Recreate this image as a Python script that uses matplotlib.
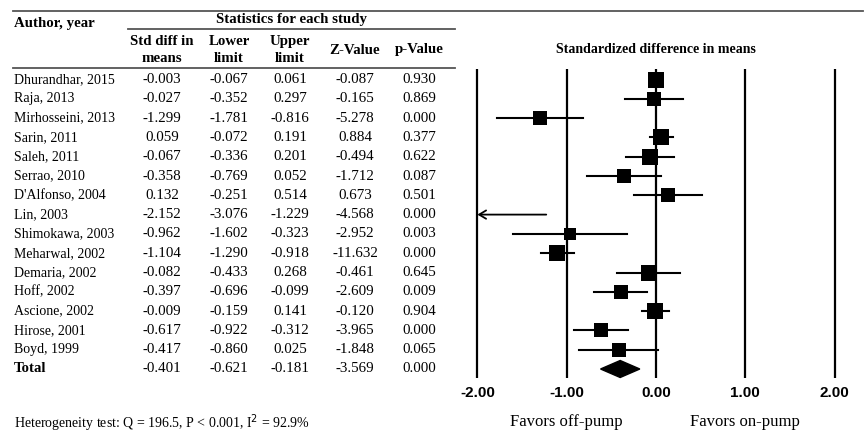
import numpy as np
import matplotlib
matplotlib.use("Agg")
import matplotlib.pyplot as plt
from matplotlib.patches import Polygon

# ---- data ----
studies = ["Dhurandhar, 2015", "Raja, 2013", "Mirhosseini, 2013", "Sarin, 2011",
           "Saleh, 2011", "Serrao, 2010", "D'Alfonso, 2004", "Lin, 2003",
           "Shimokawa, 2003", "Meharwal, 2002", "Demaria, 2002", "Hoff, 2002",
           "Ascione, 2002", "Hirose, 2001", "Boyd, 1999"]
smd = [-0.003, -0.027, -1.299, 0.059, -0.067, -0.358, 0.132, -2.152,
       -0.962, -1.104, -0.082, -0.397, -0.009, -0.617, -0.417]
lower = [-0.067, -0.352, -1.781, -0.072, -0.336, -0.769, -0.251, -3.076,
         -1.602, -1.290, -0.433, -0.696, -0.159, -0.922, -0.860]
upper = [0.061, 0.297, -0.816, 0.191, 0.201, 0.052, 0.514, -1.229,
         -0.323, -0.918, 0.268, -0.099, 0.141, -0.312, 0.025]
zval = [-0.087, -0.165, -5.278, 0.884, -0.494, -1.712, 0.673, -4.568,
        -2.952, -11.632, -0.461, -2.609, -0.120, -3.965, -1.848]
pval = [0.930, 0.869, 0.000, 0.377, 0.622, 0.087, 0.501, 0.000,
        0.003, 0.000, 0.645, 0.009, 0.904, 0.000, 0.065]
# relative study weights (square size)
weight = [15, 13, 13, 15, 14.5, 13, 13, 12, 11, 14, 14, 13, 15, 13, 13]
total = {"smd": -0.401, "lower": -0.621, "upper": -0.181, "z": -3.569, "p": 0.000}
ticks = [-2.0, -1.0, 0.0, 1.0, 2.0]

SERIF = "Liberation Serif"
SANS = "Liberation Sans"

fig = plt.figure(figsize=(8.66, 4.34), dpi=100)
tab = fig.add_axes([0, 0, 1, 1])
tab.set_xlim(0, 866)
tab.set_ylim(434, 0)
tab.axis("off")

y0, dy = 79.5, 19.3
fs = 10      # study names
fsn = 10.8   # numbers
fsh = 10.7   # headers

# header
tab.plot([13, 863], [10.5, 10.5], color="#555555", lw=1.3)
tab.plot([128, 455], [29, 29], color="#555555", lw=1.3)
tab.plot([13, 455], [68, 68], color="#555555", lw=1.3)
tab.text(14, 23, "Author, year", fontsize=fsh, fontweight="bold", family=SERIF, va="center")
tab.text(291, 19, "Statistics for each study", fontsize=fsh, fontweight="bold", family=SERIF,
         va="center", ha="center")
cols = [162, 229, 290, 355, 419]
heads = ["Std diff in\nmeans", "Lower\nlimit", "Upper\nlimit", "Z-Value", "p-Value"]
for cx, h in zip(cols, heads):
    tab.text(cx, 50, h, fontsize=fsh, fontweight="bold", family=SERIF, va="center",
             ha="center", linespacing=1.4)

for i, name in enumerate(studies):
    y = y0 + dy * i
    tab.text(14, y, name, fontsize=fs, family=SERIF, va="center")
    vals = [smd[i], lower[i], upper[i], zval[i], pval[i]]
    for cx, v in zip(cols, vals):
        tab.text(cx, y, f"{v:.3f}", fontsize=fsn, family=SERIF, va="center", ha="center")
yt = y0 + dy * len(studies)
tab.text(14, yt, "Total", fontsize=fsh, fontweight="bold", family=SERIF, va="center")
for cx, v in zip(cols, [total["smd"], total["lower"], total["upper"], total["z"], total["p"]]):
    tab.text(cx, yt, f"{v:.3f}", fontsize=fsn, family=SERIF, va="center", ha="center")

tab.text(14, 423, "Heterogeneity test: Q = 196.5, P < 0.001, I$^2$ = 92.9%", fontsize=10,
         family=SERIF, va="center")

# ---- forest plot ----
ax = fig.add_axes([0, 0, 1, 1])
ax.axis("off")
x0, sx = 656, 89.3
ax.set_xlim((0 - x0) / sx, (866 - x0) / sx)
ax.set_ylim((434 - y0) / dy, (0 - y0) / dy)

ax.vlines(ticks, -0.55, 15.47, color="black", lw=1.6)
for t in ticks:
    ax.text(t, 16.25, f"{t:.2f}", fontsize=11, fontweight="bold", family=SANS,
            ha="center", va="center")
ax.text(0, -1.55, "Standardized difference in means", fontsize=10, fontweight="bold",
        family=SERIF, ha="center", va="center")
ax.text(-1, 17.75, "Favors off-pump", fontsize=12, family=SERIF, ha="center", va="center")
ax.text(1, 17.75, "Favors on-pump", fontsize=12, family=SERIF, ha="center", va="center")

xmin = ticks[0]
for i in range(len(studies)):
    lo, hi, m = lower[i], upper[i], smd[i]
    if lo < xmin:
        ax.annotate("", xy=(xmin, i), xytext=(hi, i),
                    arrowprops=dict(arrowstyle="->,head_length=0.5,head_width=0.3",
                                    color="black", lw=1.3, shrinkA=0, shrinkB=0))
    else:
        ax.plot([lo, hi], [i, i], color="black", lw=1.5)
    if m >= xmin:
        ax.plot(m, i, marker="s", color="black", markersize=weight[i] * 0.78,
                markeredgewidth=0)

n = len(studies)
h = 0.44
diamond = Polygon([(total["lower"], n), (total["smd"], n - h), (total["upper"], n),
                   (total["smd"], n + h)], closed=True, color="black")
ax.add_patch(diamond)

fig.savefig("out.png", dpi=100)
